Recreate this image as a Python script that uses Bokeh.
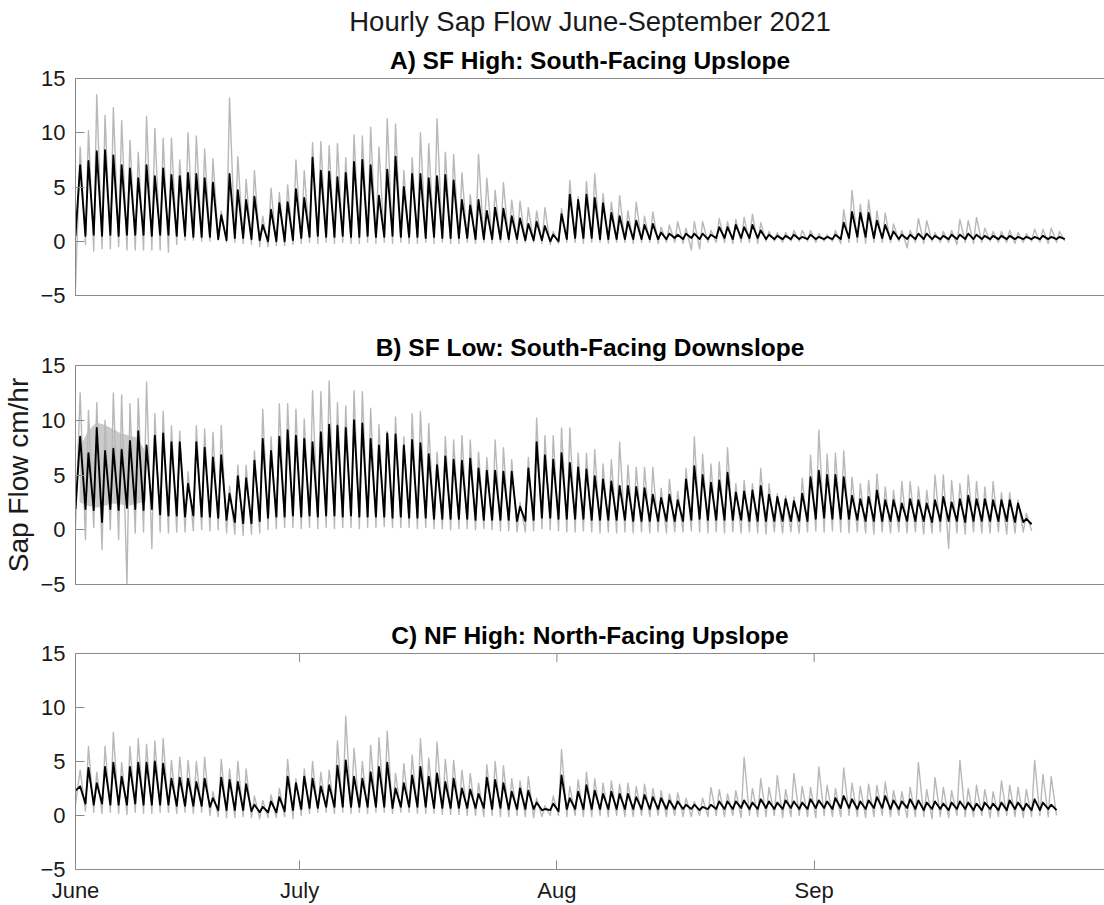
import numpy as np
from bokeh.plotting import figure
from bokeh.layouts import column
from bokeh.models import Range1d, FixedTicker, LinearAxis, Title
from bokeh.embed import file_html
from bokeh.resources import INLINE

# ---------------------------------------------------------------------------
# Hourly sap flow, summarised as daily extremes (cm/hr).
# Day 0 of every list is 4 June 2021; time is counted in days since 1 June.
#   *_peak      afternoon maximum of the site mean trace (black)
#   *_trough    night minimum of the mean trace before each peak, plus a closing value
#   *_grey_hi   highest single-tree value of the day (grey)
#   *_grey_lo   lowest single-tree value before each peak, plus a closing value
# ---------------------------------------------------------------------------
FIRST_DAY = 3          # 4 June, in days since 1 June
PEAK_TIME = 0.56       # fraction of the day at which the daily peak occurs
TROUGH_TIME = 0.20     # fraction of the day at which the night minimum occurs

# A) SF High: South-Facing Upslope
a_peak = [
    7.0, 7.4, 8.3, 8.4, 7.9, 7.0, 6.7, 5.8, 7.0, 6.0,
    6.7, 6.1, 6.0, 6.3, 6.2, 5.8, 5.4, 2.4, 6.2, 4.7,
    3.8, 4.1, 1.5, 2.9, 3.5, 3.6, 4.8, 4.0, 7.7, 6.5,
    6.4, 5.9, 6.3, 7.3, 7.5, 7.0, 4.2, 6.6, 7.8, 5.0,
    6.2, 6.2, 5.8, 6.0, 6.1, 5.6, 3.8, 3.3, 3.8, 2.8,
    3.1, 3.0, 2.3, 2.1, 1.6, 1.8, 1.4, 0.6, 2.5, 4.3,
    3.8, 4.3, 4.0, 3.5, 2.6, 2.3, 1.8, 1.9, 1.5, 1.6,
    0.8, 0.7, 0.6, 0.7, 0.7, 0.7, 0.6, 1.3, 1.3, 1.5,
    1.3, 1.5, 1.0, 0.6, 0.5, 0.5, 0.6, 0.4, 0.6, 0.4,
    0.4, 0.6, 1.7, 2.7, 2.6, 2.6, 1.9, 1.5, 0.9, 0.6,
    0.6, 0.7, 0.7, 0.5, 0.5, 0.6, 0.6, 0.7, 0.6, 0.5,
    0.5, 0.5, 0.5, 0.4, 0.4, 0.4, 0.5, 0.4, 0.4]
a_trough = [
    0.5, 0.5, 0.6, 0.5, 0.6, 0.5, 0.6, 0.6, 0.6, 0.5, 0.6, 0.6, 0.5, 0.5, 0.4, 0.4, 0.4,
    0.2, 0.1, 0.3, 0.3, 0.2, 0.1, 0.0, 0.0, 0.0, 0.1, 0.3,
    0.4, 0.5, 0.4, 0.4, 0.5, 0.4, 0.4, 0.5, 0.4, 0.4, 0.5, 0.4, 0.4, 0.4, 0.3, 0.4, 0.3, 0.3,
    0.3, 0.3, 0.2, 0.2, 0.2, 0.2, 0.2, 0.2, 0.1, 0.1, 0.1, 0.0,
    0.0, 0.2, 0.3, 0.3, 0.3, 0.2, 0.2, 0.2, 0.2, 0.2, 0.2, 0.2,
    0.2, 0.2, 0.3, 0.2, 0.3, 0.2, 0.2, 0.3, 0.3, 0.2,
    0.3, 0.3, 0.3, 0.2, 0.2, 0.2, 0.2, 0.2, 0.2, 0.2,
    0.2, 0.2, 0.2, 0.3, 0.4, 0.4, 0.3, 0.3, 0.2, 0.2,
    0.2, 0.2, 0.2, 0.2, 0.2, 0.2, 0.2, 0.2, 0.2, 0.2,
    0.2, 0.2, 0.2, 0.2, 0.2, 0.2, 0.2, 0.2, 0.2, 0.2]
a_grey_hi = [
    8.7, 10.2, 13.5, 11.6, 12.3, 11.1, 9.3, 8.2, 11.5, 10.4,
    9.5, 9.5, 7.5, 10.0, 9.7, 8.5, 7.6, 2.8, 13.2, 7.8,
    5.7, 6.5, 2.3, 4.9, 4.5, 5.2, 7.5, 6.5, 9.1, 9.2,
    8.8, 9.0, 7.7, 9.8, 9.7, 10.5, 8.7, 11.3, 10.8, 6.5,
    7.7, 10.0, 9.0, 11.3, 8.2, 8.0, 6.3, 4.3, 8.0, 5.8,
    4.7, 5.4, 3.8, 3.7, 3.1, 2.8, 3.1, 0.9, 3.0, 5.6,
    4.1, 5.5, 6.2, 4.4, 3.6, 4.2, 2.8, 3.6, 2.3, 2.7,
    1.3, 1.5, 1.8, 1.2, 1.8, 1.8, 1.0, 2.1, 1.8, 2.0,
    2.2, 2.5, 1.7, 0.9, 0.8, 0.8, 1.0, 1.0, 1.0, 0.7,
    0.6, 1.0, 2.9, 4.7, 3.4, 3.8, 2.8, 2.6, 1.6, 1.0,
    1.0, 2.1, 1.9, 0.8, 0.9, 1.0, 2.0, 1.9, 2.2, 1.2,
    0.9, 0.9, 1.0, 0.8, 0.7, 1.1, 1.1, 1.2, 0.9]
a_grey_lo = [
    -4.3, -0.3, -0.9, -0.7, -0.7, -0.5, -0.8, -0.8, -0.8, -0.8, -0.8, -1.0, -0.3,
    0.1, 0.1, 0.0, 0.0, 0.1, -0.1, -0.1, -0.2, -0.3,
    -0.5, -0.5, -0.4, -0.4, -0.3, -0.2,
    -0.1, -0.2, -0.1, -0.2, -0.1, -0.2, -0.2, -0.1, -0.2, -0.1,
    -0.2, -0.1, -0.2, -0.2, -0.1, -0.2, -0.1, -0.2, -0.2, -0.1,
    -0.2, -0.1, -0.2, -0.1, -0.1, -0.2, -0.1, -0.1, -0.2, -0.3,
    -0.2, -0.1, -0.1, -0.2, -0.1, -0.1, -0.2, -0.1, -0.1, -0.2,
    -0.1, -0.1, -0.2, -0.1, -0.1, -0.2, -0.8, -0.7, -0.1, -0.1,
    -0.1, -0.2, -0.1, -0.1, -0.2, 0.0, 0.0, -0.1, 0.0, 0.0,
    0.0, -0.1, 0.0, 0.0, -0.2, -0.1, -0.1, -0.2, -0.1, -0.1,
    -0.1, 0.0, -0.6, -0.1, -0.2, 0.0, -0.1, -0.1, -0.3, -0.1,
    -0.2, -0.1, 0.0, -0.1, -0.1, -0.2, -0.1, 0.0, -0.1, -0.2,
    -0.1, 0.0]

# B) SF Low: South-Facing Downslope
b_peak = [
    8.5, 7.0, 9.3, 7.2, 7.4, 7.3, 8.1, 9.0, 7.7, 8.6,
    8.8, 8.0, 8.0, 4.2, 8.0, 7.5, 6.6, 6.8, 3.3, 4.9,
    4.7, 6.3, 8.3, 7.2, 8.5, 9.1, 8.6, 8.3, 8.0, 8.9,
    9.6, 9.5, 9.3, 10.0, 9.7, 8.3, 7.7, 8.8, 8.7, 7.7,
    8.2, 7.9, 6.9, 5.9, 6.7, 6.4, 6.3, 6.5, 5.6, 5.4,
    5.4, 5.3, 5.3, 2.1, 5.6, 8.0, 6.8, 6.4, 7.0, 6.1,
    5.7, 5.5, 4.9, 4.6, 4.4, 4.0, 4.0, 3.9, 3.8, 3.2,
    2.9, 3.2, 2.7, 4.6, 5.8, 5.0, 4.3, 4.5, 5.2, 3.4,
    3.5, 3.6, 4.0, 3.2, 3.0, 2.8, 2.6, 3.3, 4.8, 5.4,
    5.0, 5.0, 4.8, 3.1, 2.8, 3.0, 3.6, 2.7, 2.7, 2.4,
    2.8, 2.7, 2.4, 2.7, 3.0, 2.5, 2.8, 3.1, 2.8, 2.8,
    2.7, 2.7, 2.7, 2.4, 1.0]
b_trough = [
    1.9, 1.9, 1.8, 0.7, 1.9, 1.8, 2.0, 1.9, 1.8, 1.9,
    1.4, 1.3, 1.3, 1.2, 1.3, 1.2, 1.2, 1.1, 0.9, 0.7,
    0.6, 0.6, 0.8, 1.1, 1.2, 1.2, 1.3, 1.2, 1.3, 1.2,
    1.3, 1.3, 1.2, 1.3, 1.2, 1.2, 1.2, 1.2, 1.1, 1.2,
    1.1, 1.1, 1.1, 1.0, 1.0, 1.0, 1.0, 1.0, 0.9, 0.9,
    0.9, 0.9, 0.9, 0.8, 0.8, 0.9, 1.1, 1.1, 1.0, 1.0,
    1.0, 1.0, 0.9, 0.9, 0.9, 0.9, 0.9, 0.8, 0.8, 0.8,
    0.8, 0.8, 0.8, 0.8, 0.9, 1.0, 0.9, 0.9, 0.9, 0.9,
    0.9, 0.8, 0.8, 0.8, 0.8, 0.8, 0.8, 0.8, 0.8, 1.0,
    1.1, 1.0, 1.0, 1.0, 0.9, 0.8, 0.8, 0.8, 0.8, 0.8,
    0.8, 0.8, 0.8, 0.7, 0.8, 0.8, 0.8, 0.7, 0.8, 0.8,
    0.8, 0.8, 0.8, 0.7, 0.7, 0.5]
b_grey_hi = [
    12.5, 10.9, 11.6, 10.0, 12.5, 12.3, 11.5, 12.0, 13.5, 10.6,
    10.8, 9.5, 9.0, 5.3, 9.5, 9.2, 8.9, 9.5, 4.0, 5.9,
    5.9, 7.2, 11.0, 8.5, 11.5, 11.5, 11.0, 10.1, 12.7, 12.6,
    13.6, 11.6, 11.3, 12.7, 12.6, 11.1, 9.6, 9.0, 10.3, 8.5,
    10.6, 10.8, 9.7, 7.1, 8.5, 8.2, 8.6, 8.2, 7.1, 6.6,
    8.2, 7.5, 6.4, 2.5, 6.6, 10.2, 8.6, 8.6, 9.3, 9.3,
    7.0, 7.0, 7.3, 6.0, 6.4, 8.0, 5.9, 5.7, 5.7, 5.7,
    3.8, 4.6, 3.5, 5.6, 8.5, 6.9, 6.0, 6.2, 7.5, 4.2,
    4.5, 4.2, 5.6, 4.2, 3.3, 3.1, 3.0, 4.7, 6.8, 9.1,
    6.9, 7.0, 7.2, 4.8, 4.2, 4.5, 5.1, 3.9, 3.6, 4.4,
    4.4, 3.9, 3.6, 5.0, 5.0, 4.5, 4.2, 5.0, 4.4, 3.9,
    4.4, 3.4, 3.4, 2.7, 1.5]
b_grey_lo = [
    0.3, -0.9, 0.2, -1.8, 0.0, -0.9, -5.0, -0.3, -0.2, -1.7,
    -0.2, -0.3, -0.2, -0.2, -0.1, 0.0, -0.1, 0.0, -0.3, -0.4,
    -0.5, -0.4, -0.3, 0.0, 0.1, 0.2, 0.2, 0.1, 0.2, 0.1,
    0.2, 0.1, 0.2, 0.2, 0.1, 0.2, 0.2, 0.3, 0.2, 0.2,
    0.2, 0.1, 0.2, 0.1, 0.1, 0.0, 0.1, 0.1, 0.0, 0.1,
    0.0, -0.1, -0.1, -0.2, -0.2, -0.1, 0.1, 0.0, -0.1, -0.2,
    -0.2, -0.1, -0.2, -0.3, -0.2, -0.3, -0.2, -0.3, -0.2, -0.3,
    -0.2, -0.3, -0.2, -0.2, -0.1, -0.2, -0.3, -0.2, -0.3, -0.2,
    -0.3, -0.2, -0.3, -0.4, -0.2, -0.3, -0.2, -0.3, -0.2, -0.1,
    -0.2, -0.1, -0.2, -0.3, -0.2, -0.3, -0.4, -0.2, -0.3, -0.2,
    -0.3, -0.2, -0.4, -0.3, -0.2, -1.7, -0.3, -0.4, -0.2, -0.3,
    -0.3, -0.2, -0.4, -0.3, -0.2, -0.1]
# noisy sensor at the SF Low site during the first days: daily envelope
b_noise_hi = [7.5, 9.0, 9.8, 9.6, 9.2, 8.8, 8.6, 8.4, 7.0]
b_noise_lo = [2.5, 2.2, 2.0, 2.2, 2.4, 2.3, 2.2, 2.4, 2.6]

# C) NF High: North-Facing Upslope
c_peak = [
    2.7, 4.4, 3.0, 4.5, 4.9, 3.6, 4.5, 4.9, 4.9, 5.0,
    4.8, 3.4, 3.5, 3.4, 3.1, 3.4, 1.6, 3.5, 3.3, 3.1,
    2.9, 1.0, 0.8, 1.3, 1.7, 3.6, 3.0, 3.6, 3.4, 2.7,
    2.8, 4.6, 5.1, 3.6, 3.4, 4.0, 4.5, 4.9, 2.5, 3.0,
    3.7, 4.5, 3.6, 3.9, 3.1, 3.4, 2.5, 2.4, 2.0, 3.5,
    3.3, 3.0, 2.2, 2.5, 2.3, 1.2, 0.6, 1.1, 3.7, 1.6,
    2.2, 2.8, 2.3, 2.0, 2.2, 2.0, 2.0, 1.7, 1.9, 1.7,
    1.6, 1.4, 1.3, 1.0, 1.0, 0.8, 1.0, 1.3, 1.3, 1.3,
    1.4, 1.2, 1.5, 1.3, 1.2, 1.4, 1.3, 1.2, 1.5, 1.4,
    1.3, 1.6, 1.8, 1.5, 1.3, 1.4, 1.7, 1.8, 1.4, 1.3,
    1.5, 1.4, 1.2, 1.3, 1.1, 1.2, 1.3, 1.2, 1.1, 1.2,
    1.1, 1.2, 1.4, 1.2, 1.1, 1.5, 1.2, 1.0]
c_trough = [
    2.3, 1.1, 1.0, 1.1, 1.0, 1.0, 1.0, 1.1, 1.0, 1.0, 1.0, 1.0, 0.9, 0.9, 0.9, 0.9,
    0.8, 0.5, 0.5, 0.5, 0.5, 0.4, 0.3, 0.3, 0.3,
    0.4, 0.5, 0.6, 0.7, 0.7, 0.8, 0.8, 0.8, 0.8, 0.8, 0.8, 0.8, 0.8, 0.7, 0.8, 0.8, 0.8,
    0.8, 0.7, 0.7, 0.7, 0.7, 0.7, 0.7, 0.7, 0.6, 0.7, 0.6, 0.6, 0.6, 0.6, 0.5, 0.5,
    0.4, 0.6, 0.6, 0.6, 0.6, 0.6, 0.6, 0.6, 0.6, 0.6, 0.6, 0.6, 0.6, 0.6, 0.6, 0.6,
    0.6, 0.5, 0.6, 0.6,
    0.6, 0.6, 0.7, 0.6, 0.6, 0.7, 0.6, 0.6, 0.7, 0.6,
    0.6, 0.7, 0.7, 0.6, 0.7, 0.7, 0.6, 0.6, 0.7, 0.7,
    0.6, 0.6, 0.7, 0.6, 0.5, 0.6, 0.6, 0.5, 0.6, 0.6,
    0.5, 0.5, 0.6, 0.5, 0.5, 0.6, 0.5, 0.5, 0.5, 0.6,
    0.5]
c_grey_hi = [
    4.2, 6.4, 4.0, 6.4, 7.7, 4.9, 6.4, 7.1, 6.6, 6.9,
    7.1, 5.1, 5.4, 5.1, 5.0, 5.4, 2.2, 5.2, 4.3, 5.0,
    4.3, 1.8, 1.4, 1.9, 2.5, 5.2, 3.4, 4.3, 5.0, 4.0,
    4.2, 6.9, 9.2, 6.2, 5.0, 6.5, 7.2, 7.8, 3.9, 4.8,
    5.6, 7.1, 5.3, 6.8, 5.2, 5.1, 4.2, 3.9, 3.0, 4.7,
    5.0, 4.6, 3.4, 3.2, 3.6, 1.6, 0.9, 1.8, 6.1, 2.7,
    3.3, 4.0, 3.4, 3.0, 3.2, 2.9, 3.0, 2.7, 2.9, 2.5,
    2.3, 2.0, 2.1, 1.6, 1.3, 1.6, 2.6, 2.4, 2.0, 2.3,
    5.4, 2.5, 3.4, 2.6, 3.7, 2.4, 3.9, 2.7, 2.6, 4.5,
    2.8, 2.5, 4.4, 3.0, 2.7, 2.9, 2.8, 3.1, 2.3, 2.2,
    2.6, 4.9, 2.4, 3.5, 2.6, 2.3, 5.1, 2.5, 2.8, 2.4,
    2.2, 3.2, 2.8, 2.6, 2.4, 5.1, 3.8, 3.6]
c_grey_lo = [
    1.0, 0.4, 0.3, 0.2, 0.3, 0.2, 0.1, 0.3, 0.2, 0.2, 0.3, 0.3, 0.2, 0.3, 0.2, 0.3,
    0.0, -0.1, -0.2, -0.2, -0.1, -0.2, -0.3, -0.2, -0.2,
    -0.1, -0.3, 0.0, 0.2, 0.3, 0.3, 0.2, 0.3, 0.2, 0.3, 0.2, 0.3, 0.3, 0.2, 0.3, 0.3,
    0.2, 0.2, 0.2, 0.1, 0.1, 0.1, 0.0, 0.0, -0.1, 0.0, -0.1, -0.1, 0.0, -0.1, -0.2,
    -0.1, 0.0,
    0.0, -0.1, 0.0, -0.1, -0.1, 0.0, -0.1, 0.0, -0.1, -0.1,
    0.0, -0.1, 0.0, -0.1, 0.0, -0.1, -0.1, 0.0, -0.1, 0.0,
    -0.1, 0.0, -0.2, 0.0, -0.1, -0.1, 0.0, -0.2, -0.1, 0.0,
    -0.1, -0.2, 0.0, -0.1, -0.1, 0.0, -0.1, -0.2, -0.1, 0.0,
    -0.1, 0.0, -0.2, -0.1, -0.1, -0.3, -0.1, -0.2, 0.0, -0.1,
    -0.1, 0.0, -0.2, -0.1, 0.0, -0.1, -0.2, -0.1, 0.0, -0.1,
    0.0]

month_tick_days = [3, 30, 61, 92]
month_tick_labels = ["June", "July", "Aug", "Sep"]
y_ticks = [-5, 0, 5, 10, 15]

# ---------------------------------------------------------------------------
FONT = "Liberation Sans"
FRAME_GREY = "#8a8a8a"
TRACE_GREY = "#b8b8b8"
TEXT = "#1a1a1a"
X_START, X_END = 3.0, 126.98
Y_START, Y_END = -5, 15
TOP_TICK_LEN = 0.8     # inward tick length on the upper frame edge, in y units


def daily_trace(peaks, troughs):
    """Interleave night minima and afternoon maxima into one time series."""
    n = len(peaks)
    t_lo = FIRST_DAY + np.arange(len(troughs)) + TROUGH_TIME
    t_lo[0] = FIRST_DAY
    t_hi = FIRST_DAY + np.arange(n) + PEAK_TIME
    x = np.empty(n + len(troughs))
    y = np.empty(n + len(troughs))
    x[0::2], y[0::2] = t_lo, troughs
    x[1::2], y[1::2] = t_hi, peaks
    return x, y


def make_panel(subtitle, height, top, bottom, months_shown, ylabel=None, heading=None):
    p = figure(width=1104, height=height, title=None,
               x_range=Range1d(X_START, X_END), y_range=Range1d(Y_START, Y_END),
               output_backend="svg", toolbar_location=None,
               min_border_left=73, min_border_right=0,
               min_border_top=top, min_border_bottom=bottom)
    p.grid.visible = False
    p.outline_line_color = None
    p.background_fill_color = "white"
    p.border_fill_color = "white"

    # left axis
    ya = p.yaxis[0]
    ya.ticker = FixedTicker(ticks=y_ticks)
    ya.major_tick_in = 9
    ya.major_tick_out = 0
    ya.minor_tick_line_color = None
    ya.axis_line_color = FRAME_GREY
    ya.major_tick_line_color = FRAME_GREY
    ya.major_label_text_font = FONT
    ya.major_label_text_font_size = "22px"
    ya.major_label_text_color = TEXT
    ya.major_label_standoff = 10
    if ylabel:
        ya.axis_label = ylabel
        ya.axis_label_text_font = FONT
        ya.axis_label_text_font_size = "28px"
        ya.axis_label_text_font_style = "normal"
        ya.axis_label_text_color = TEXT
        ya.axis_label_standoff = 3

    # bottom axis
    xa = p.xaxis[0]
    xa.axis_line_color = FRAME_GREY
    xa.minor_tick_line_color = None
    xa.major_tick_line_color = FRAME_GREY
    xa.major_tick_out = 0
    if months_shown:
        xa.ticker = FixedTicker(ticks=month_tick_days)
        xa.major_label_overrides = {d: s for d, s in zip(month_tick_days, month_tick_labels)}
        xa.major_tick_in = 9
        xa.major_label_text_font = FONT
        xa.major_label_text_font_size = "22px"
        xa.major_label_text_color = TEXT
        xa.major_label_standoff = 8
        # matching inward ticks hanging from the upper frame edge
        p.segment(x0=month_tick_days, y0=[Y_END] * len(month_tick_days),
                  x1=month_tick_days, y1=[Y_END - TOP_TICK_LEN] * len(month_tick_days),
                  line_color=FRAME_GREY, line_width=1)
    else:
        xa.ticker = FixedTicker(ticks=[])
        xa.major_tick_in = 0
        xa.major_label_standoff = 0

    # upper frame edge
    top_axis = LinearAxis(ticker=FixedTicker(ticks=[]),
                          axis_line_color=FRAME_GREY, minor_tick_line_color=None,
                          major_tick_in=0, major_tick_out=0, major_label_standoff=0)
    p.add_layout(top_axis, "above")

    p.add_layout(Title(text=subtitle, align="center", text_font=FONT,
                       text_font_size="24.5px", text_font_style="bold",
                       text_color="#000000", standoff=9), "above")
    if heading:
        p.add_layout(Title(text=heading, align="center", text_font=FONT,
                           text_font_size="27.5px", text_font_style="normal",
                           text_color=TEXT, standoff=7), "above")
    return p


def draw_site(p, peak, trough, grey_hi, grey_lo):
    gx, gy = daily_trace(grey_hi, grey_lo)
    p.line(gx, gy, line_color=TRACE_GREY, line_width=1.4, line_join="round")
    bx, by = daily_trace(peak, trough)
    p.line(bx, by, line_color="black", line_width=1.9, line_join="round")


# panel heights: border above + 218/219 px plotting frame + border below
pa = make_panel("A) SF High: South-Facing Upslope", 309, 77, 14, False,
                heading="Hourly Sap Flow June-September 2021")
draw_site(pa, a_peak, a_trough, a_grey_hi, a_grey_lo)

pb = make_panel("B) SF Low: South-Facing Downslope", 289, 56, 14, False,
                ylabel="Sap Flow cm/hr")
noise_x = FIRST_DAY + np.arange(len(b_noise_hi)) + 0.5
pb.varea(x=noise_x, y1=b_noise_lo, y2=b_noise_hi, fill_color=TRACE_GREY, fill_alpha=0.75)
draw_site(pb, b_peak, b_trough, b_grey_hi, b_grey_lo)

pc = make_panel("C) NF High: North-Facing Upslope", 307, 55, 33, True)
draw_site(pc, c_peak, c_trough, c_grey_hi, c_grey_lo)

layout = column(pa, pb, pc, spacing=0)
open("out.html", "w").write(file_html(layout, INLINE))
